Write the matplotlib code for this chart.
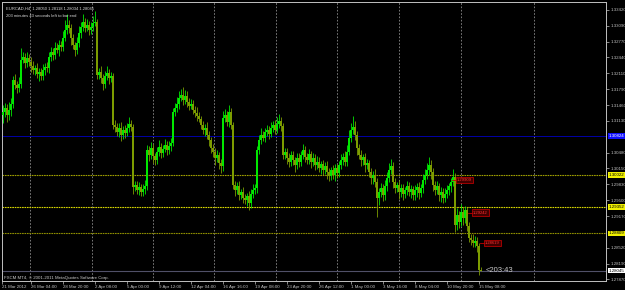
import numpy as np
import matplotlib.pyplot as plt

# EURCAD H4 - prices stored as points (0.0001) above 1.28000
base = 1.28
first_open = 325

closes = [332, 340, 325, 336, 348, 398, 387, 381, 390, 439, 445, 433, 443, 435, 427, 418, 422, 410, 414, 406, 418, 424, 422, 445,
          455, 449, 464, 459, 470, 466, 484, 501, 511, 505, 484, 470, 459, 474, 495, 507, 517, 505, 511, 501, 507, 515, 517, 408,
          414, 402, 390, 406, 412, 402, 406, 305, 301, 290, 299, 284, 294, 288, 299, 307, 301, 177, 181, 171, 177, 167, 173, 179,
          253, 243, 257, 241, 233, 249, 259, 247, 255, 263, 253, 261, 268, 332, 340, 348, 360, 367, 356, 365, 352, 344, 348, 336,
          330, 323, 317, 305, 294, 299, 284, 274, 257, 249, 237, 243, 226, 220, 319, 325, 311, 332, 305, 181, 171, 179, 160, 167,
          154, 150, 158, 144, 163, 171, 175, 253, 274, 284, 278, 290, 294, 286, 299, 305, 294, 307, 313, 303, 243, 249, 237, 229,
          243, 233, 222, 237, 229, 243, 253, 239, 233, 245, 229, 237, 222, 229, 216, 224, 212, 220, 208, 200, 212, 202, 216, 206,
          222, 233, 239, 229, 249, 278, 294, 301, 284, 257, 243, 233, 239, 222, 226, 208, 196, 202, 187, 154, 167, 175, 160, 179,
          196, 212, 220, 187, 175, 181, 167, 175, 163, 171, 179, 167, 173, 160, 171, 177, 165, 175, 191, 202, 212, 222, 208, 181,
          171, 179, 160, 167, 154, 163, 171, 179, 187, 198, 99, 119, 105, 125, 113, 130, 96, 72, 68, 62, 66, 56, 5, 4.5]

up_wick = [14, 10, 9, 16, 12, 8, 11, 9, 14, 24, 10, 9, 12, 8, 11, 9, 6, 11, 8, 9, 12, 8, 11, 10,
           11, 8, 13, 9, 11, 8, 14, 20, 22, 11, 8, 9, 6, 12, 15, 10, 17, 9, 12, 8, 11, 14, 22, 6,
           9, 12, 8, 11, 15, 9, 8, 6, 11, 8, 9, 12, 8, 11, 9, 14, 8, 6, 9, 8, 11, 6, 9, 12,
           11, 8, 12, 9, 6, 11, 14, 8, 9, 12, 8, 11, 9, 8, 11, 14, 15, 12, 17, 11, 9, 8, 11, 9,
           8, 11, 9, 6, 9, 8, 11, 9, 6, 9, 8, 11, 6, 9, 14, 12, 9, 15, 8, 6, 9, 8, 11, 6,
           9, 8, 6, 11, 9, 12, 8, 9, 11, 14, 9, 8, 11, 9, 12, 8, 11, 15, 14, 9, 6, 9, 8, 11,
           9, 8, 6, 11, 9, 8, 12, 9, 8, 11, 6, 9, 8, 11, 9, 6, 9, 8, 11, 9, 6, 11, 9, 8,
           9, 11, 8, 12, 14, 17, 15, 22, 11, 9, 8, 11, 6, 9, 8, 6, 9, 8, 11, 9, 8, 11, 9, 12,
           11, 14, 15, 8, 9, 6, 11, 8, 9, 6, 11, 9, 8, 6, 9, 8, 11, 9, 12, 11, 14, 17, 11, 9,
           8, 11, 6, 9, 8, 11, 9, 6, 9, 15, 8, 14, 9, 17, 11, 8, 6, 9, 8, 11, 9, 8, 6, 6.8]

dn_wick = [16, 11, 14, 9, 12, 8, 9, 11, 8, 9, 6, 11, 8, 9, 12, 8, 11, 9, 14, 8, 9, 11, 8, 9,
           8, 11, 9, 6, 11, 8, 9, 6, 8, 11, 14, 9, 12, 8, 9, 11, 8, 9, 6, 11, 8, 9, 6, 8,
           9, 11, 14, 8, 9, 12, 8, 9, 11, 8, 9, 12, 8, 11, 6, 9, 8, 14, 9, 8, 11, 9, 8, 11,
           9, 12, 8, 14, 11, 9, 8, 11, 9, 6, 11, 8, 9, 6, 9, 8, 11, 6, 9, 8, 11, 9, 6, 9,
           8, 11, 6, 9, 8, 11, 9, 12, 9, 11, 14, 9, 12, 15, 11, 9, 8, 11, 9, 8, 12, 9, 11, 8,
           11, 9, 12, 14, 11, 9, 8, 11, 9, 8, 6, 9, 8, 11, 6, 9, 8, 6, 9, 11, 8, 9, 12, 11,
           9, 11, 14, 8, 11, 9, 8, 11, 9, 8, 12, 9, 11, 8, 9, 12, 11, 9, 14, 11, 9, 8, 12, 11,
           9, 8, 11, 9, 8, 6, 9, 8, 11, 14, 9, 12, 11, 15, 9, 11, 14, 12, 11, 40, 14, 11, 12, 9,
           11, 9, 8, 12, 11, 9, 14, 11, 12, 9, 11, 8, 12, 9, 11, 14, 12, 9, 11, 8, 9, 11, 14, 12,
           11, 9, 12, 14, 11, 9, 8, 11, 12, 9, 15, 11, 12, 9, 14, 11, 9, 8, 11, 9, 8, 14, 9, 1.1]

date_labels = ["26 Mar 04:00", "28 Mar 20:00", "2 Apr 08:00", "5 Apr 00:00", "9 Apr 12:00",
               "12 Apr 04:00", "16 Apr 16:00", "19 Apr 08:00", "23 Apr 20:00", "26 Apr 12:00",
               "1 May 00:00", "3 May 16:00", "8 May 04:00", "10 May 20:00", "15 May 08:00"]
date_bars = [14, 30, 46, 62, 78, 94, 110, 126, 142, 158, 174, 190, 206, 222, 238]

# 1.30800 and 1.28850 sit under the highlighted level labels
price_ticks = [1.33420, 1.33090, 1.32770, 1.32440, 1.32110, 1.31790, 1.31460, 1.31130,
               1.30480, 1.30150, 1.29830, 1.29500, 1.29170, 1.28520, 1.28190, 1.27870]

blue_level = 1.30824
yellow_levels = [1.30022, 1.29352, 1.28809]
bid = 1.28045
red_marks = [(224, 1.29909), (232, 1.29242), (238, 1.28619)]
grid_bars = [13.5, 44.5, 75, 105.5, 136.5, 167, 198, 229, 265.5]

c = np.array(closes) / 10000 + base
o = np.r_[first_open / 10000 + base, c[:-1]]
h = np.maximum(o, c) + np.array(up_wick) / 10000
l = np.minimum(o, c) - np.array(dn_wick) / 10000
idx = np.arange(len(c))
bull = c >= o

fig = plt.figure(figsize=(6.25, 2.9), dpi=100, facecolor='black')
ax = fig.add_axes([2 / 625, 9 / 290, 604 / 625, 279 / 290])
ax.set_facecolor('black')
ax.set_xlim(-0.5, 301.5)
ax.set_ylim(1.27829, 1.33585)

for g in grid_bars:
    ax.axvline(g, color='#8c8c8c', lw=0.6, ls=(0, (2, 2)), zorder=1)

ax.axhline(blue_level, color='#0000a8', lw=0.7, zorder=1)
for y, col in zip(yellow_levels, ['#a0a000', '#d8d800', '#909000']):
    ax.axhline(y, color=col, lw=0.8, ls=(0, (1.5, 0.7)), zorder=1)
ax.axhline(bid, color='#505068', lw=0.8, zorder=1)

up_col = '#00e800'
dn_col = '#7d9c00'
cols = np.where(bull, up_col, dn_col)
ax.vlines(idx, l, h, colors=cols, lw=0.6, zorder=3)
ax.bar(idx, np.maximum(np.abs(c - o), 0.00004), bottom=np.minimum(o, c), width=0.9,
       color=cols, lw=0, zorder=3)

# red price labels
for b, p in red_marks:
    ax.plot([b + 0.5, b + 3], [p, p], color='#c00000', lw=0.6, zorder=4)
    ax.text(b + 3, p, '%.5f' % p, fontsize=3, family='Liberation Sans', color='#ff3030',
            va='center', ha='left', zorder=5,
            bbox=dict(boxstyle='square,pad=0.25', fc='#400000', ec='#d00000', lw=0.5))

ax.text(241.5, bid, '<203:43', fontsize=5.5, family='Liberation Sans', color='#c8c8c8',
        va='center', ha='left', zorder=5)

for s in ax.spines.values():
    s.set_color('#c0c0c0')
    s.set_linewidth(0.7)

ax.yaxis.tick_right()
ax.set_yticks(price_ticks)
ax.set_yticklabels(['%.5f' % t for t in price_ticks])
ax.tick_params(axis='y', colors='#c0c0c0', labelsize=3.2, length=2, width=0.5, pad=1.5)
for t in ax.get_yticklabels():
    t.set_family('Liberation Sans')

ax.set_xticks([-0.5] + date_bars)
ax.set_xticklabels(["21 Mar 2012"] + date_labels)
ax.tick_params(axis='x', colors='#c0c0c0', labelsize=3.2, length=2, width=0.5, pad=0.8)
for t in ax.get_xticklabels():
    t.set_family('Liberation Sans')
    t.set_ha('left')

# highlighted axis labels
tr = ax.get_yaxis_transform()
ax.text(1.004, blue_level, '%.5f' % blue_level, transform=tr, fontsize=3.2, family='Liberation Sans',
        color='white', va='center', ha='left', clip_on=False,
        bbox=dict(boxstyle='square,pad=0.2', fc='#1010ff', ec='none'))
for y in yellow_levels:
    ax.text(1.004, y, '%.5f' % y, transform=tr, fontsize=3.2, family='Liberation Sans',
            color='black', va='center', ha='left', clip_on=False,
            bbox=dict(boxstyle='square,pad=0.2', fc='#f0f000', ec='none'))
ax.text(1.004, bid, '%.5f' % bid, transform=tr, fontsize=3.2, family='Liberation Sans',
        color='black', va='center', ha='left', clip_on=False,
        bbox=dict(boxstyle='square,pad=0.2', fc='white', ec='none'))

ax.text(0.006, 0.985, 'EURCAD,H4  1.28050 1.28118 1.28034 1.28045', transform=ax.transAxes,
        fontsize=3, family='Liberation Sans', color='#d8d8d8', va='top', ha='left')
ax.text(0.006, 0.957, '203 minutes 43 seconds left to bar end', transform=ax.transAxes,
        fontsize=3, family='Liberation Sans', color='#d8d8d8', va='top', ha='left')
ax.text(0.003, 0.005, 'FXCM MT4, \u00a9 2001-2011 MetaQuotes Software Corp.', transform=ax.transAxes,
        fontsize=3.2, family='Liberation Sans', color='#c8c8c8', va='bottom', ha='left')

fig.savefig('out.png', dpi=100, facecolor='black')
